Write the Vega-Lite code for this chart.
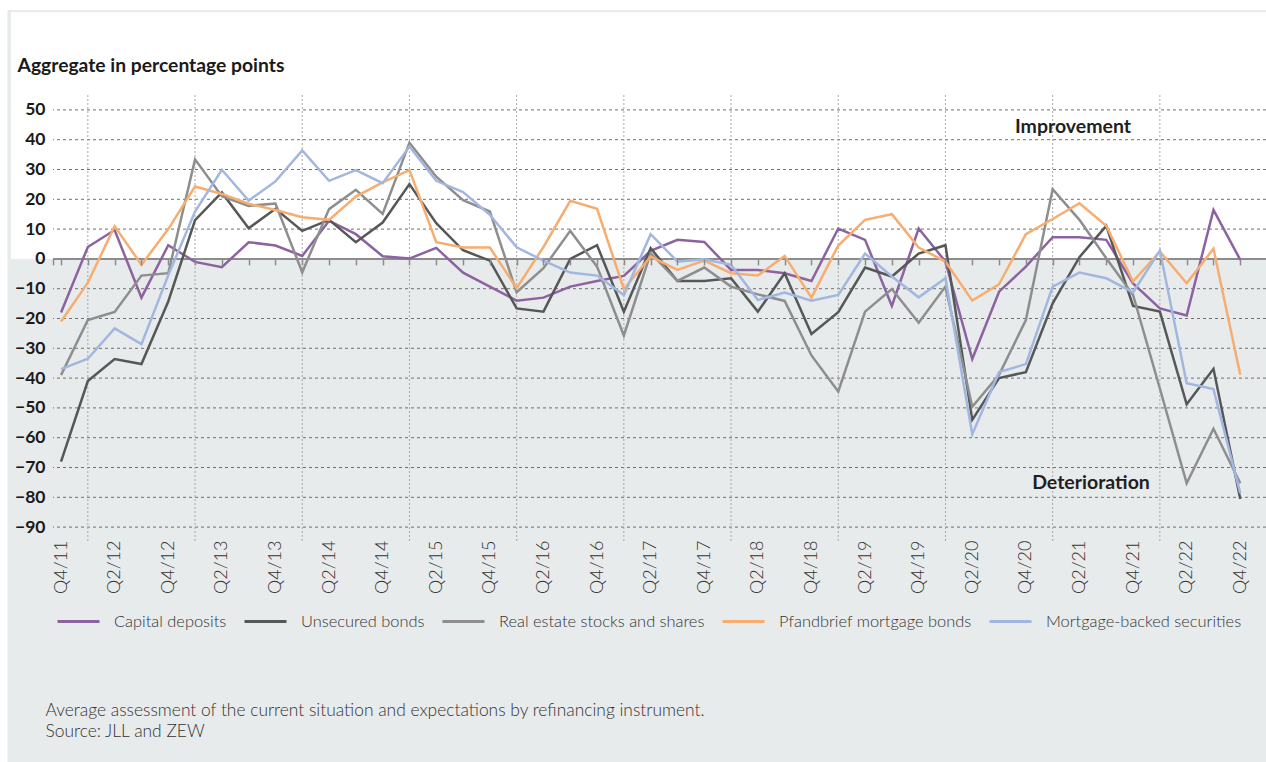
{
  "$schema": "https://vega.github.io/schema/vega-lite/v6.json",
  "width": 1213,
  "height": 447,
  "autosize": {"type": "none"},
  "padding": {"left": 53, "top": 95, "right": 0, "bottom": 220},
  "background": "white",
  "config": {"view": {"stroke": null}, "font": "Lato"},
  "datasets": {
    "survey": [
      {"n": 0, "q": "Q4/11", "Capital deposits": -18, "Unsecured bonds": -68, "Real estate stocks and shares": -39, "Pfandbrief mortgage bonds": -21, "Mortgage-backed securities": -37},
      {"n": 1, "q": "Q1/12", "Capital deposits": 4, "Unsecured bonds": -41, "Real estate stocks and shares": -20.5, "Pfandbrief mortgage bonds": -8, "Mortgage-backed securities": -33.5},
      {"n": 2, "q": "Q2/12", "Capital deposits": 9.7, "Unsecured bonds": -33.6, "Real estate stocks and shares": -17.8, "Pfandbrief mortgage bonds": 11, "Mortgage-backed securities": -23.3},
      {"n": 3, "q": "Q3/12", "Capital deposits": -13, "Unsecured bonds": -35.3, "Real estate stocks and shares": -5.6, "Pfandbrief mortgage bonds": -2, "Mortgage-backed securities": -28.6},
      {"n": 4, "q": "Q4/12", "Capital deposits": 4.6, "Unsecured bonds": -14.3, "Real estate stocks and shares": -4.8, "Pfandbrief mortgage bonds": 10, "Mortgage-backed securities": -5.5},
      {"n": 5, "q": "Q1/13", "Capital deposits": -1, "Unsecured bonds": 13, "Real estate stocks and shares": 33.4, "Pfandbrief mortgage bonds": 24.3, "Mortgage-backed securities": 15.9},
      {"n": 6, "q": "Q2/13", "Capital deposits": -2.8, "Unsecured bonds": 22.3, "Real estate stocks and shares": 21, "Pfandbrief mortgage bonds": 21.8, "Mortgage-backed securities": 29.9},
      {"n": 7, "q": "Q3/13", "Capital deposits": 5.6, "Unsecured bonds": 10.3, "Real estate stocks and shares": 17.8, "Pfandbrief mortgage bonds": 18.5, "Mortgage-backed securities": 19.6},
      {"n": 8, "q": "Q4/13", "Capital deposits": 4.5, "Unsecured bonds": 16.8, "Real estate stocks and shares": 18.6, "Pfandbrief mortgage bonds": 16.4, "Mortgage-backed securities": 26},
      {"n": 9, "q": "Q1/14", "Capital deposits": 1, "Unsecured bonds": 9.4, "Real estate stocks and shares": -4.5, "Pfandbrief mortgage bonds": 14, "Mortgage-backed securities": 36.4},
      {"n": 10, "q": "Q2/14", "Capital deposits": 12.8, "Unsecured bonds": 13.1, "Real estate stocks and shares": 16.7, "Pfandbrief mortgage bonds": 13.1, "Mortgage-backed securities": 26.2},
      {"n": 11, "q": "Q3/14", "Capital deposits": 8.3, "Unsecured bonds": 5.6, "Real estate stocks and shares": 23.2, "Pfandbrief mortgage bonds": 20.9, "Mortgage-backed securities": 29.8},
      {"n": 12, "q": "Q4/14", "Capital deposits": 0.9, "Unsecured bonds": 12.2, "Real estate stocks and shares": 15.1, "Pfandbrief mortgage bonds": 25.7, "Mortgage-backed securities": 25.4},
      {"n": 13, "q": "Q1/15", "Capital deposits": 0.1, "Unsecured bonds": 25.1, "Real estate stocks and shares": 39, "Pfandbrief mortgage bonds": 29.8, "Mortgage-backed securities": 37.7},
      {"n": 14, "q": "Q2/15", "Capital deposits": 3.7, "Unsecured bonds": 12, "Real estate stocks and shares": 27.6, "Pfandbrief mortgage bonds": 5.6, "Mortgage-backed securities": 26.2},
      {"n": 15, "q": "Q3/15", "Capital deposits": -4.6, "Unsecured bonds": 2.9, "Real estate stocks and shares": 19.7, "Pfandbrief mortgage bonds": 3.8, "Mortgage-backed securities": 22.4},
      {"n": 16, "q": "Q4/15", "Capital deposits": -9.3, "Unsecured bonds": -0.6, "Real estate stocks and shares": 15.9, "Pfandbrief mortgage bonds": 3.8, "Mortgage-backed securities": 14.8},
      {"n": 17, "q": "Q1/16", "Capital deposits": -14, "Unsecured bonds": -16.6, "Real estate stocks and shares": -11.2, "Pfandbrief mortgage bonds": -9.8, "Mortgage-backed securities": 3.9},
      {"n": 18, "q": "Q2/16", "Capital deposits": -13, "Unsecured bonds": -17.7, "Real estate stocks and shares": -3.1, "Pfandbrief mortgage bonds": 4, "Mortgage-backed securities": -0.6},
      {"n": 19, "q": "Q3/16", "Capital deposits": -9.3, "Unsecured bonds": 0, "Real estate stocks and shares": 9.4, "Pfandbrief mortgage bonds": 19.5, "Mortgage-backed securities": -4.6},
      {"n": 20, "q": "Q4/16", "Capital deposits": -7.4, "Unsecured bonds": 4.6, "Real estate stocks and shares": -2.6, "Pfandbrief mortgage bonds": 16.8, "Mortgage-backed securities": -5.6},
      {"n": 21, "q": "Q1/17", "Capital deposits": -5.7, "Unsecured bonds": -17.7, "Real estate stocks and shares": -25.7, "Pfandbrief mortgage bonds": -10.1, "Mortgage-backed securities": -12.1},
      {"n": 22, "q": "Q2/17", "Capital deposits": 2.7, "Unsecured bonds": 3.6, "Real estate stocks and shares": 1.9, "Pfandbrief mortgage bonds": 0.8, "Mortgage-backed securities": 8.3},
      {"n": 23, "q": "Q3/17", "Capital deposits": 6.4, "Unsecured bonds": -7.4, "Real estate stocks and shares": -7.4, "Pfandbrief mortgage bonds": -3.7, "Mortgage-backed securities": -0.9},
      {"n": 24, "q": "Q4/17", "Capital deposits": 5.7, "Unsecured bonds": -7.4, "Real estate stocks and shares": -2.9, "Pfandbrief mortgage bonds": -0.6, "Mortgage-backed securities": -0.1},
      {"n": 25, "q": "Q1/18", "Capital deposits": -3.7, "Unsecured bonds": -6.5, "Real estate stocks and shares": -9.3, "Pfandbrief mortgage bonds": -4.8, "Mortgage-backed securities": -2},
      {"n": 26, "q": "Q2/18", "Capital deposits": -3.7, "Unsecured bonds": -17.7, "Real estate stocks and shares": -11.9, "Pfandbrief mortgage bonds": -5.6, "Mortgage-backed securities": -13.8},
      {"n": 27, "q": "Q3/18", "Capital deposits": -4.8, "Unsecured bonds": -4.8, "Real estate stocks and shares": -14.1, "Pfandbrief mortgage bonds": 1, "Mortgage-backed securities": -11.3},
      {"n": 28, "q": "Q4/18", "Capital deposits": -7.4, "Unsecured bonds": -25.2, "Real estate stocks and shares": -32.4, "Pfandbrief mortgage bonds": -13, "Mortgage-backed securities": -14},
      {"n": 29, "q": "Q1/19", "Capital deposits": 10.2, "Unsecured bonds": -17.9, "Real estate stocks and shares": -44.5, "Pfandbrief mortgage bonds": 4.5, "Mortgage-backed securities": -12.1},
      {"n": 30, "q": "Q2/19", "Capital deposits": 6.4, "Unsecured bonds": -2.9, "Real estate stocks and shares": -17.7, "Pfandbrief mortgage bonds": 13.1, "Mortgage-backed securities": 1.8},
      {"n": 31, "q": "Q3/19", "Capital deposits": -15.8, "Unsecured bonds": -5.9, "Real estate stocks and shares": -10.1, "Pfandbrief mortgage bonds": 15, "Mortgage-backed securities": -5.9},
      {"n": 32, "q": "Q4/19", "Capital deposits": 10.2, "Unsecured bonds": 1.8, "Real estate stocks and shares": -21.4, "Pfandbrief mortgage bonds": 3.8, "Mortgage-backed securities": -12.9},
      {"n": 33, "q": "Q1/20", "Capital deposits": -0.9, "Unsecured bonds": 4.6, "Real estate stocks and shares": -9.3, "Pfandbrief mortgage bonds": -0.9, "Mortgage-backed securities": -6.5},
      {"n": 34, "q": "Q2/20", "Capital deposits": -33.6, "Unsecured bonds": -54, "Real estate stocks and shares": -49.6, "Pfandbrief mortgage bonds": -14, "Mortgage-backed securities": -58.8},
      {"n": 35, "q": "Q3/20", "Capital deposits": -11, "Unsecured bonds": -40, "Real estate stocks and shares": -38.9, "Pfandbrief mortgage bonds": -8.5, "Mortgage-backed securities": -38},
      {"n": 36, "q": "Q4/20", "Capital deposits": -2.6, "Unsecured bonds": -38, "Real estate stocks and shares": -20.5, "Pfandbrief mortgage bonds": 8.3, "Mortgage-backed securities": -35.3},
      {"n": 37, "q": "Q1/21", "Capital deposits": 7.3, "Unsecured bonds": -14.9, "Real estate stocks and shares": 23.4, "Pfandbrief mortgage bonds": 13.4, "Mortgage-backed securities": -9.3},
      {"n": 38, "q": "Q2/21", "Capital deposits": 7.3, "Unsecured bonds": 0.6, "Real estate stocks and shares": 13.1, "Pfandbrief mortgage bonds": 18.7, "Mortgage-backed securities": -4.6},
      {"n": 39, "q": "Q3/21", "Capital deposits": 6.4, "Unsecured bonds": 11.1, "Real estate stocks and shares": 0.2, "Pfandbrief mortgage bonds": 11.1, "Mortgage-backed securities": -6.5},
      {"n": 40, "q": "Q4/21", "Capital deposits": -8.2, "Unsecured bonds": -15.8, "Real estate stocks and shares": -12.1, "Pfandbrief mortgage bonds": -7.6, "Mortgage-backed securities": -11.2},
      {"n": 41, "q": "Q1/22", "Capital deposits": -16.6, "Unsecured bonds": -17.7, "Real estate stocks and shares": -43.5, "Pfandbrief mortgage bonds": 2.5, "Mortgage-backed securities": 2.8},
      {"n": 42, "q": "Q2/22", "Capital deposits": -19, "Unsecured bonds": -48.8, "Real estate stocks and shares": -75.3, "Pfandbrief mortgage bonds": -8.2, "Mortgage-backed securities": -41.7},
      {"n": 43, "q": "Q3/22", "Capital deposits": 16.4, "Unsecured bonds": -36.9, "Real estate stocks and shares": -57, "Pfandbrief mortgage bonds": 3.4, "Mortgage-backed securities": -43.7},
      {"n": 44, "q": "Q4/22", "Capital deposits": -0.3, "Unsecured bonds": -80.6, "Real estate stocks and shares": -75.3, "Pfandbrief mortgage bonds": -38.9, "Mortgage-backed securities": -78.6}
    ]
  },
  "layer": [
    {
      "data": {"values": [{"part": "frame"}]},
      "mark": {"type": "rect", "fill": "#e8ebec"},
      "encoding": {
        "x": {"datum": -2, "type": "quantitative", "scale": {"domain": [-0.3, 44.96], "nice": false, "zero": false}, "axis": null},
        "x2": {"datum": 50},
        "y": {"datum": 83.5, "type": "quantitative", "scale": {"domain": [-95, 55], "nice": false, "zero": false}, "axis": null},
        "y2": {"datum": -300}
      }
    },
    {
      "data": {"values": [{"part": "upper"}]},
      "mark": {"type": "rect", "fill": "#ffffff"},
      "encoding": {
        "x": {"datum": -1.87, "type": "quantitative", "scale": {"domain": [-0.3, 44.96], "nice": false, "zero": false}, "axis": null},
        "x2": {"datum": 50},
        "y": {"datum": 82.8, "type": "quantitative", "scale": {"domain": [-95, 55], "nice": false, "zero": false}, "axis": null},
        "y2": {"datum": 0}
      }
    },
    {
      "data": {"values": [{"g": -90}, {"g": -80}, {"g": -70}, {"g": -60}, {"g": -50}, {"g": -40}, {"g": -30}, {"g": -20}, {"g": -10}, {"g": 10}, {"g": 20}, {"g": 30}, {"g": 40}, {"g": 50}]},
      "mark": {"type": "rule", "stroke": "#707070", "strokeWidth": 1, "strokeDash": [3, 3]},
      "encoding": {
        "y": {"field": "g", "type": "quantitative", "scale": {"domain": [-95, 55], "nice": false, "zero": false}, "axis": null}
      }
    },
    {
      "data": {"values": [{"n": 1}, {"n": 5}, {"n": 9}, {"n": 13}, {"n": 17}, {"n": 21}, {"n": 25}, {"n": 29}, {"n": 33}, {"n": 37}, {"n": 41}]},
      "mark": {"type": "rule", "stroke": "#a9a9a9", "strokeWidth": 1, "strokeDash": [2, 2]},
      "encoding": {
        "x": {
          "field": "n", "type": "quantitative",
          "scale": {"domain": [-0.3, 44.96], "nice": false, "zero": false},
          "axis": {
            "orient": "bottom", "offset": -283.1,
            "values": [-0.3, 0, 1, 2, 3, 4, 5, 6, 7, 8, 9, 10, 11, 12, 13, 14, 15, 16, 17, 18, 19, 20, 21, 22, 23, 24, 25, 26, 27, 28, 29, 30, 31, 32, 33, 34, 35, 36, 37, 38, 39, 40, 41, 42, 43, 44],
            "labels": false, "domain": false, "grid": false,
            "ticks": true, "tickSize": 6, "tickColor": "#8c8c8c", "tickWidth": 1.5,
            "title": null, "zindex": 1
          }
        }
      }
    },
    {
      "data": {"values": [{"part": "zero"}]},
      "mark": {"type": "rule", "stroke": "#8c8c8c", "strokeWidth": 2},
      "encoding": {
        "y": {"datum": 0, "type": "quantitative", "scale": {"domain": [-95, 55], "nice": false, "zero": false}, "axis": null}
      }
    },
    {
      "data": {"name": "survey"},
      "transform": [
        {"fold": ["Capital deposits", "Unsecured bonds", "Real estate stocks and shares", "Pfandbrief mortgage bonds", "Mortgage-backed securities"], "as": ["series", "value"]}
      ],
      "mark": {"type": "line", "strokeWidth": 2.5, "interpolate": "linear"},
      "encoding": {
        "x": {
          "field": "n", "type": "quantitative",
          "scale": {"domain": [-0.3, 44.96], "nice": false, "zero": false},
          "axis": {
            "orient": "bottom",
            "values": [0, 2, 4, 6, 8, 10, 12, 14, 16, 18, 20, 22, 24, 26, 28, 30, 32, 34, 36, 38, 40, 42, 44],
            "labelExpr": "'Q' + ((datum.value + 3) % 4 + 1) + '/' + (11 + floor((datum.value + 3) / 4))",
            "labelAngle": 270, "labelAlign": "right", "labelBaseline": "middle",
            "labelPadding": -2, "labelFontSize": 18, "labelFontWeight": 300, "labelColor": "#333333", "labelFont": "Lato",
            "labelOverlap": false, "labelFlush": false,
            "ticks": false, "domain": false, "grid": false, "zindex": 1,
            "title": ["Average assessment of the current situation and expectations by refinancing instrument.", "Source: JLL and ZEW"],
            "titleX": -8, "titleY": 159, "titleAngle": 0, "titleAlign": "left", "titleAnchor": "start", "titleBaseline": "top",
            "titleFont": "Lato", "titleFontSize": 17.4, "titleFontWeight": 300, "titleColor": "#333333", "titleLineHeight": 21
          }
        },
        "y": {
          "field": "value", "type": "quantitative",
          "scale": {"domain": [-95, 55], "nice": false, "zero": false},
          "axis": {
            "values": [-90, -80, -70, -60, -50, -40, -30, -20, -10, 0, 10, 20, 30, 40, 50],
            "labelFont": "Lato", "labelFontSize": 17.5, "labelFontWeight": "bold", "labelColor": "#1a1a1a", "labelPadding": 8,
            "ticks": false, "domain": false, "grid": false, "zindex": 1,
            "title": "Aggregate in percentage points",
            "titleAngle": 0, "titleX": -36, "titleY": -24, "titleAlign": "left", "titleBaseline": "alphabetic", "titleAnchor": "start",
            "titleFont": "Lato", "titleFontSize": 19.3, "titleFontWeight": "bold", "titleColor": "#1a1a1a"
          }
        },
        "color": {
          "field": "series", "type": "nominal",
          "scale": {
            "domain": ["Capital deposits", "Unsecured bonds", "Real estate stocks and shares", "Pfandbrief mortgage bonds", "Mortgage-backed securities"],
            "range": ["#8c62a0", "#555758", "#8e8e8e", "#f8ad70", "#a2b7df"]
          },
          "legend": {
            "orient": "none", "legendX": 3, "legendY": 504, "direction": "horizontal", "columns": 5, "title": null,
            "symbolType": "stroke", "symbolSize": 1764, "symbolStrokeWidth": 3,
            "labelFont": "Lato", "labelFontSize": 16.4, "labelFontWeight": 300, "labelColor": "#333333",
            "columnPadding": 11, "labelOffset": 13, "labelLimit": 400
          }
        }
      }
    },
    {
      "data": {"values": [{"label": "Improvement"}]},
      "mark": {"type": "text", "fontSize": 19.5, "fontWeight": "bold", "color": "#231f20", "align": "center", "baseline": "middle", "font": "Lato"},
      "encoding": {
        "x": {"datum": 37.76, "type": "quantitative", "scale": {"domain": [-0.3, 44.96], "nice": false, "zero": false}, "axis": null},
        "y": {"datum": 44.3, "type": "quantitative", "scale": {"domain": [-95, 55], "nice": false, "zero": false}, "axis": null},
        "text": {"field": "label"}
      }
    },
    {
      "data": {"values": [{"label": "Deterioration"}]},
      "mark": {"type": "text", "fontSize": 19.5, "fontWeight": "bold", "color": "#231f20", "align": "center", "baseline": "middle", "font": "Lato"},
      "encoding": {
        "x": {"datum": 38.43, "type": "quantitative", "scale": {"domain": [-0.3, 44.96], "nice": false, "zero": false}, "axis": null},
        "y": {"datum": -75.1, "type": "quantitative", "scale": {"domain": [-95, 55], "nice": false, "zero": false}, "axis": null},
        "text": {"field": "label"}
      }
    }
  ],
  "resolve": {"axis": {"x": "independent", "y": "independent"}}
}
